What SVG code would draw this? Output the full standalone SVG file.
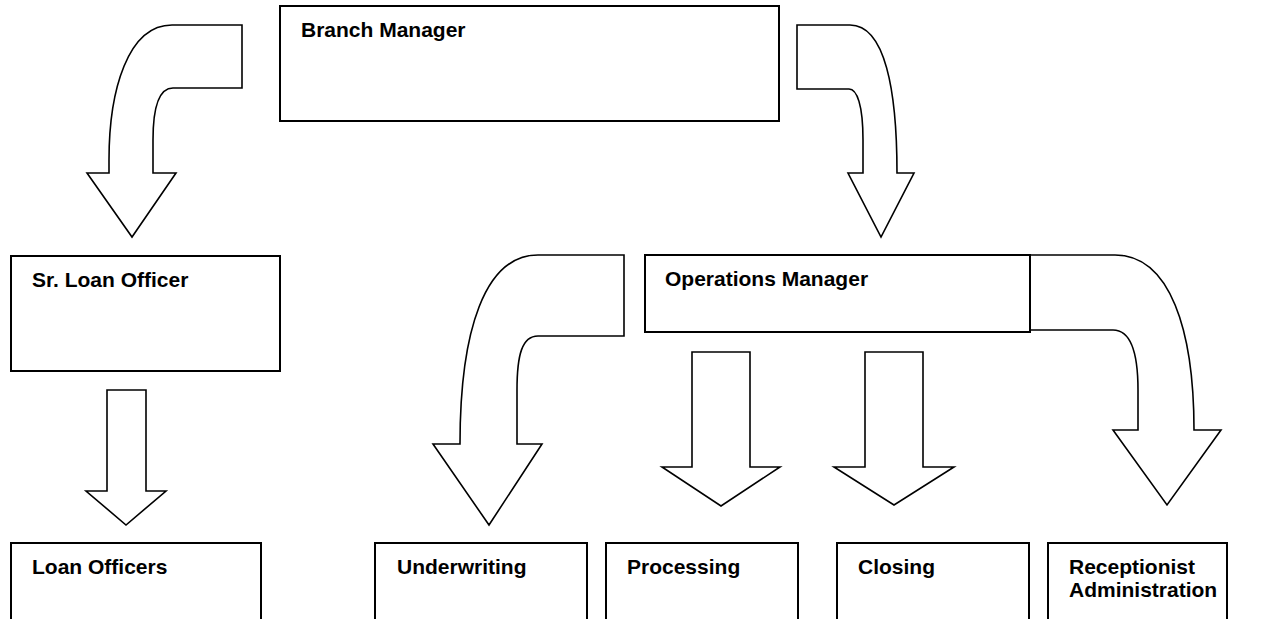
<svg xmlns="http://www.w3.org/2000/svg" width="1280" height="619" viewBox="0 0 1280 619">
<style>
.box{fill:#fff;stroke:#000;stroke-width:2}
.arr{fill:#fff;stroke:#000;stroke-width:1.6;stroke-linejoin:miter}
.lbl{font-family:"Liberation Sans",Arial,sans-serif;font-weight:bold;font-size:21px;fill:#000}
</style>
<rect width="1280" height="619" fill="#fff"/>
<g id="connectors">
<path class="arr" d="M242,25 L242,88 L173,88 C160,88 153,105 153,140 L153,173 L176,173 L132,237 L87,173 L109,173 L109,160 C109,90 128,25 172,25 Z"/>
<path class="arr" d="M797,25 L797,89 L849,89 C857,89 863,105 863,140 L863,173 L848,173 L881,237 L914,173 L897,173 C897,90 885,25 850,25 Z"/>
<path class="arr" d="M624,255 L624,336 L538,336 C522,336 517,355 517,390 L517,444 L542,444 L489,525 L433,444 L460,444 C460,330 485,255 538,255 Z"/>
<path class="arr" d="M1028,255 L1028,330 L1113,330 C1130,330 1138,350 1138,390 L1138,430 L1113,430 L1167,505 L1221,430 L1194,430 C1194,330 1170,255 1115,255 Z"/>
<path class="arr" d="M107,390 L146,390 L146,491 L166,491 L126,525 L86,491 L107,491 Z"/>
<path class="arr" d="M692,352 L750,352 L750,467 L780,467 L721,506 L662,467 L692,467 Z"/>
<path class="arr" d="M865,352 L923,352 L923,467 L954,467 L894,505 L834,467 L865,467 Z"/>
</g>
<g id="branch-manager"><rect class="box" x="280" y="6" width="499" height="115"/><text class="lbl" x="301" y="37">Branch Manager</text></g>
<g id="sr-loan-officer"><rect class="box" x="11" y="256" width="269" height="115"/><text class="lbl" x="32" y="287">Sr. Loan Officer</text></g>
<g id="operations-manager"><rect class="box" x="645" y="255" width="385" height="77"/><text class="lbl" x="665" y="286">Operations Manager</text></g>
<g id="loan-officers"><rect class="box" x="11" y="543" width="250" height="100"/><text class="lbl" x="32" y="574">Loan Officers</text></g>
<g id="underwriting"><rect class="box" x="375" y="543" width="212" height="100"/><text class="lbl" x="397" y="574">Underwriting</text></g>
<g id="processing"><rect class="box" x="606" y="543" width="192" height="100"/><text class="lbl" x="627" y="574">Processing</text></g>
<g id="closing"><rect class="box" x="837" y="543" width="192" height="100"/><text class="lbl" x="858" y="574">Closing</text></g>
<g id="receptionist"><rect class="box" x="1048" y="543" width="179" height="100"/><text class="lbl" x="1069" y="574">Receptionist</text><text class="lbl" x="1069" y="597">Administration</text></g>
</svg>
